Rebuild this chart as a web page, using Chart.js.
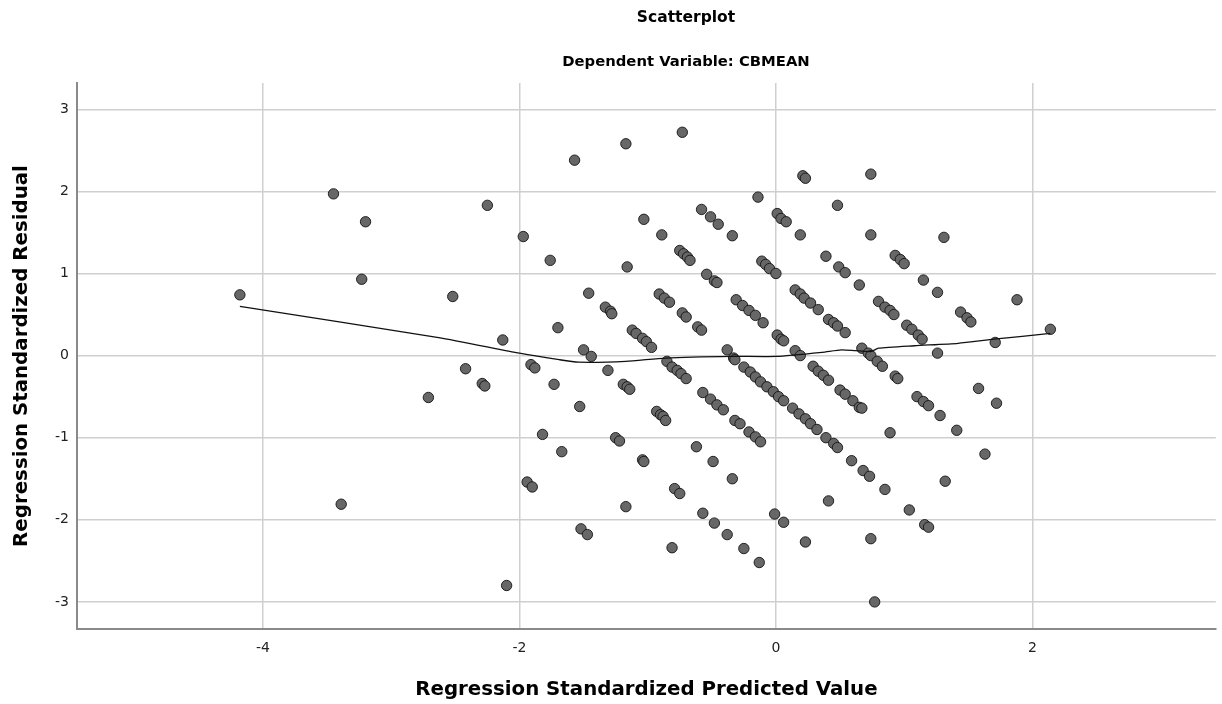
<!DOCTYPE html>
<html>
<head>
<meta charset="utf-8">
<script src="https://cdn.jsdelivr.net/npm/chart.js@4.4.0/dist/chart.umd.min.js"></script>
<style>
html,body{margin:0;padding:0;background:#ffffff;}
#wrap{width:1222px;height:704px;position:relative;}
</style>
</head>
<body>
<div id="wrap"><canvas id="c" width="1222" height="704"></canvas></div>
<script>
// ---- data ----
const chartTitle = 'Scatterplot';
const chartSubtitle = 'Dependent Variable: CBMEAN';
const xAxisTitle = 'Regression Standardized Predicted Value';
const yAxisTitle = 'Regression Standardized Residual';

const xTicks = [-4, -2, 0, 2];
const yTicks = [-3, -2, -1, 0, 1, 2, 3];
const xRange = [-5.45, 3.43];
const yRange = [-3.33, 3.32];

const predicted = [
 -4.18,-3.45,-3.20,-3.23,-3.39,-2.71,-2.52,-2.42,-2.29,-2.27,
 -2.25,-2.13,-2.10,-1.97,-1.94,-1.90,-1.91,-1.88,-1.82,-1.76,
 -1.73,-1.70,-1.67,-1.57,-1.53,-1.52,-1.47,-1.50,-1.44,-1.46,
 -1.33,-1.29,-1.28,-1.31,-1.25,-1.22,-1.19,-1.16,-1.14,-1.17,
 -1.17,-1.16,-1.12,-1.09,-1.04,-1.01,-0.97,-1.04,-1.03,-1.03,
 -0.93,-0.90,-0.88,-0.86,-0.91,-0.87,-0.83,-0.89,-0.85,-0.81,
 -0.77,-0.74,-0.70,-0.81,-0.79,-0.75,-0.75,-0.72,-0.69,-0.67,
 -0.73,-0.70,-0.73,-0.61,-0.58,-0.62,-0.58,-0.51,-0.45,-0.54,
 -0.48,-0.46,-0.57,-0.51,-0.46,-0.41,-0.49,-0.57,-0.48,-0.38,
 -0.25,-0.13,-0.34,-0.34,-0.38,-0.33,-0.32,-0.31,-0.26,-0.21,
 -0.16,-0.10,-0.32,-0.28,-0.21,-0.16,-0.12,-0.25,-0.20,-0.16,
 -0.12,-0.07,-0.02, 0.02, 0.06,-0.14,-0.11,-0.08,-0.05, 0.00,
  0.01, 0.04, 0.08, 0.01, 0.04, 0.06,-0.01, 0.06, 0.15, 0.19,
  0.22, 0.27, 0.33, 0.41, 0.45, 0.48, 0.54, 0.19, 0.21, 0.23,
  0.48, 0.39, 0.49, 0.54, 0.65, 0.15, 0.19, 0.29, 0.33, 0.37,
  0.41, 0.50, 0.54, 0.60, 0.65, 0.67, 0.13, 0.18, 0.23, 0.27,
  0.32, 0.39, 0.45, 0.48, 0.59, 0.68, 0.73, 0.85, 0.41, 0.23,
  0.74, 0.77, 0.74, 0.74, 0.67, 0.72, 0.74, 0.79, 0.83, 0.80,
  0.85, 0.89, 0.92, 0.93, 0.97, 1.00, 1.15, 1.26, 1.31, 1.02,
  1.06, 1.11, 1.14, 1.44, 1.49, 1.52, 1.71, 1.88, 2.14, 0.93,
  0.95, 1.10, 1.15, 1.19, 1.28, 1.41, 0.89, 1.58, 1.72, 1.63,
  1.32, 1.04, 1.16, 1.19, 1.26
];
const residual = [
  0.74, 1.97, 1.63, 0.93,-1.81,-0.51, 0.72,-0.16,-0.34,-0.37,
  1.83, 0.19,-2.80, 1.45,-1.54,-1.60,-0.11,-0.15,-0.96, 1.16,
 -0.35, 0.34,-1.17, 2.38,-0.62,-2.11,-2.18, 0.07,-0.01, 0.76,
  0.59, 0.54, 0.51,-0.18,-1.00,-1.04,-0.35,-0.38,-0.41, 2.58,
 -1.84, 1.08, 0.31, 0.27, 0.21, 0.17, 0.10,-1.27,-1.29, 1.66,
 -0.68,-0.72,-0.74,-0.79, 0.75, 0.70, 0.65, 1.47,-0.07,-0.14,
 -0.18,-0.22,-0.28,-2.34,-1.62,-1.68, 1.28, 1.24, 1.20, 1.16,
  0.52, 0.47, 2.72, 0.35, 0.31,-1.11, 1.78, 1.69, 1.60, 0.99,
  0.91, 0.89,-0.45,-0.53,-0.60,-0.66,-1.29,-1.92,-2.04,-2.18,
 -2.35,-2.52,-1.50, 1.46, 0.07,-0.03,-0.05, 0.68, 0.61, 0.55,
  0.49, 0.40,-0.79,-0.83,-0.93,-0.99,-1.05,-0.14,-0.20,-0.26,
 -0.32,-0.38,-0.44,-0.50,-0.55, 1.93, 1.15, 1.11, 1.06, 1.00,
  1.73, 1.67, 1.63, 0.25, 0.20, 0.18,-1.93,-2.03, 0.80, 0.75,
  0.70, 0.64, 0.56, 0.44, 0.40, 0.36, 0.28, 1.47, 2.19, 2.16,
  1.83, 1.21, 1.08, 1.01, 0.86, 0.06, 0.00,-0.13,-0.19,-0.24,
 -0.30,-0.42,-0.47,-0.55,-0.63,-0.64,-0.64,-0.71,-0.77,-0.83,
 -0.90,-1.00,-1.07,-1.12,-1.28,-1.40,-1.47,-1.63,-1.77,-2.27,
 -2.23,-3.00, 2.21, 1.47, 0.09, 0.03, 0.00,-0.07,-0.13, 0.66,
  0.59, 0.55, 0.50, 1.22, 1.17, 1.12, 0.92, 0.77, 1.44, 0.37,
  0.32, 0.25, 0.20, 0.53, 0.46, 0.41, 0.16, 0.68, 0.32,-0.25,
 -0.28,-0.50,-0.56,-0.61,-0.73,-0.91,-0.94,-0.40,-0.58,-1.20,
 -1.53,-1.88,-2.06,-2.09, 0.03
];

// fit line (loess)
const fitX = [-4.18,-2.63,-2.00,-1.69,-1.54,-1.17,-0.86,-0.35, 0.00, 0.36, 0.51, 0.62, 0.74, 0.80, 1.08, 1.42, 1.70, 2.14];
const fitY = [ 0.60, 0.22, 0.03,-0.05,-0.08,-0.07,-0.03,-0.01,-0.01, 0.04, 0.07, 0.06, 0.05, 0.09, 0.12, 0.15, 0.20, 0.27];

// ---- chart ----
const FONT = '"DejaVu Sans", "Liberation Sans", Arial, sans-serif';

const titlePlugin = {
  id: 'spssTitles',
  afterDraw(chart) {
    const ctx = chart.ctx;
    ctx.save();
    ctx.fillStyle = '#000';
    ctx.textAlign = 'center';
    ctx.textBaseline = 'middle';
    ctx.font = 'bold 15.5px ' + FONT;
    ctx.fillText(chartTitle, 686, 18);
    ctx.font = 'bold 14.8px ' + FONT;
    ctx.fillText(chartSubtitle, 686, 62);
    ctx.restore();
  }
};

const scatterPts = predicted.map((x, i) => ({x: x, y: residual[i]}));
const fitPts = fitX.map((x, i) => ({x: x, y: fitY[i]}));

new Chart(document.getElementById('c'), {
  type: 'scatter',
  data: {
    datasets: [
      {
        type: 'line',
        data: fitPts,
        borderColor: '#111111',
        borderWidth: 1.3,
        pointRadius: 0,
        fill: false,
        tension: 0.2,
        order: 0
      },
      {
        type: 'scatter',
        data: scatterPts,
        pointRadius: 5.2,
        pointHoverRadius: 5.2,
        backgroundColor: '#676767',
        borderColor: 'rgba(20,20,20,0.9)',
        borderWidth: 1,
        order: 1
      }
    ]
  },
  options: {
    responsive: false,
    devicePixelRatio: 1,
    animation: false,
    events: [],
    layout: { padding: { top: 83, right: 3, left: 0, bottom: 0 } },
    plugins: { legend: { display: false }, tooltip: { enabled: false }, title: { display: false } },
    scales: {
      x: {
        type: 'linear',
        min: xRange[0],
        max: xRange[1],
        afterBuildTicks: s => { s.ticks = xTicks.map(v => ({value: v})); },
        afterFit: s => { s.height = 75; },
        grid: { color: '#cfcfcf', lineWidth: 1.5, drawTicks: false },
        border: { color: '#8a8a8a', width: 2 },
        ticks: { padding: 11, color: '#222', font: { family: FONT, size: 14 } },
        title: { display: true, text: xAxisTitle, color: '#000',
                 font: { family: FONT, size: 19.8, weight: 'bold' }, padding: { top: 0, bottom: 2 } }
      },
      y: {
        type: 'linear',
        min: yRange[0],
        max: yRange[1],
        afterBuildTicks: s => { s.ticks = yTicks.map(v => ({value: v})); },
        afterFit: s => { s.width = 77; },
        grid: { color: '#cfcfcf', lineWidth: 1.5, drawTicks: false },
        border: { color: '#8a8a8a', width: 2 },
        ticks: { padding: 8, color: '#222', font: { family: FONT, size: 14 } },
        title: { display: true, text: yAxisTitle, color: '#000',
                 font: { family: FONT, size: 19.8, weight: 'bold' }, padding: { top: 10, bottom: 0 } }
      }
    }
  },
  plugins: [titlePlugin]
});
</script>
</body>
</html>
